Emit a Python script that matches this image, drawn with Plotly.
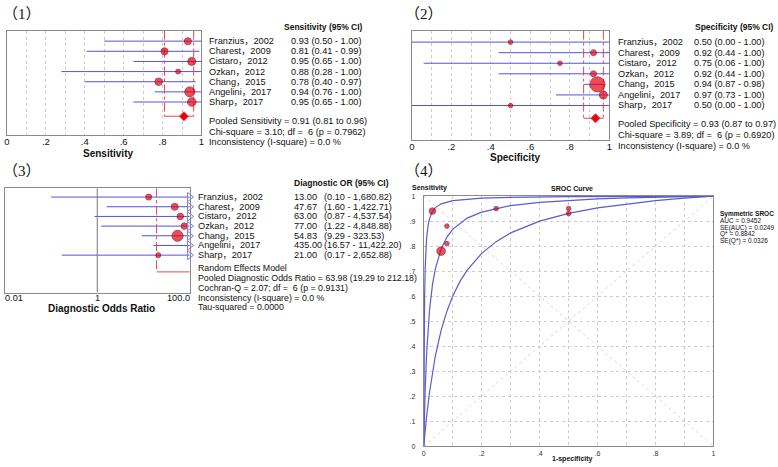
import math
import plotly.graph_objects as go

W, H = 778, 467

# ---- data ----
studies = ["Franzius，2002", "Charest，2009", "Cistaro，2012", "Ozkan，2012",
           "Chang，2015", "Angelini，2017", "Sharp，2017"]

sens = [0.93, 0.81, 0.95, 0.88, 0.78, 0.94, 0.95]
sens_lo = [0.50, 0.41, 0.65, 0.28, 0.40, 0.76, 0.65]
sens_hi = [1.00, 0.99, 1.00, 1.00, 0.97, 1.00, 1.00]
sens_weight = [7, 7, 8, 5, 7.5, 10, 8.5]
sens_pooled = [0.91, 0.81, 0.96]

spec = [0.50, 0.92, 0.75, 0.92, 0.94, 0.97, 0.50]
spec_lo = [0.00, 0.44, 0.06, 0.44, 0.87, 0.73, 0.00]
spec_hi = [1.00, 1.00, 1.00, 1.00, 0.98, 1.00, 1.00]
spec_weight = [4.5, 6, 4.5, 6, 15, 8, 4.5]
spec_pooled = [0.93, 0.87, 0.97]

dor = [13.00, 47.67, 63.00, 77.00, 54.83, 435.00, 21.00]
dor_lo = [0.10, 1.60, 0.87, 1.22, 9.29, 16.57, 0.17]
dor_hi = [1680.82, 1422.71, 4537.54, 4848.88, 323.53, 11422.20, 2652.88]
dor_weight = [6, 7, 6.5, 6.5, 11, 8, 5]
dor_pooled = [63.98, 19.29, 212.18]

sroc_weight = [4.5, 4.5, 4.5, 4.5, 8.5, 6.5, 4.5]

# SROC curve and its bounds
mid_fpr = [0, 0.002, 0.005, 0.01, 0.02, 0.03, 0.04, 0.06, 0.08, 0.1, 0.15, 0.2,
           0.3, 0.4, 0.5, 0.6, 0.7, 0.8, 0.9, 1.0]
mid_sens = [0, 0.105, 0.227, 0.371, 0.544, 0.644, 0.709, 0.789, 0.836, 0.867, 0.912,
            0.936, 0.962, 0.975, 0.983, 0.989, 0.993, 0.996, 0.998, 1.0]
up_fpr = [0, 0.0005, 0.001, 0.002, 0.003, 0.005, 0.0075, 0.01, 0.015, 0.02, 0.03,
          0.04, 0.06, 0.1, 0.2, 0.3, 0.5, 0.7, 1.0]
up_sens = [0, 0.198, 0.330, 0.497, 0.597, 0.712, 0.788, 0.833, 0.882, 0.910, 0.938,
           0.954, 0.969, 0.982, 0.992, 0.995, 0.998, 0.999, 1.0]
lo_fpr = [0, 0.003, 0.006, 0.01, 0.02, 0.03, 0.04, 0.06, 0.08, 0.1, 0.125, 0.15, 0.2,
          0.25, 0.3, 0.4, 0.5, 0.6, 0.7, 0.8, 0.9, 1.0]
lo_sens = [0, 0.039, 0.075, 0.120, 0.216, 0.295, 0.360, 0.463, 0.540, 0.600, 0.659,
           0.704, 0.771, 0.818, 0.853, 0.900, 0.931, 0.953, 0.969, 0.982, 0.992, 1.0]

prop_ticks = [0, 0.1, 0.2, 0.3, 0.4, 0.5, 0.6, 0.7, 0.8, 0.9, 1.0]
prop_labels = ["0", "", ".2", "", ".4", "", ".6", "", ".8", "", "1"]
sroc_ylabels = ["0", ".1", ".2", ".3", ".4", ".5", ".6", ".7", ".8", ".9", "1"]
dor_ticks = [0.01, 1, 100]
dor_labels = ["0.01", "1", "100.0"]

NB = "\u00a0"
sens_stats = ["Pooled Sensitivity = 0.91 (0.81 to 0.96)",
              f"Chi-square = 3.10; df ={NB} 6 (p = 0.7962)",
              "Inconsistency (I-square) = 0.0 %"]
spec_stats = ["Pooled Specificity = 0.93 (0.87 to 0.97)",
              f"Chi-square = 3.89; df ={NB} 6 (p = 0.6920)",
              "Inconsistency (I-square) = 0.0 %"]
dor_stats = ["Random Effects Model",
             "Pooled Diagnostic Odds Ratio = 63.98 (19.29 to 212.18)",
             f"Cochran-Q = 2.07; df ={NB} 6 (p = 0.9131)",
             "Inconsistency (I-square) = 0.0 %",
             "Tau-squared = 0.0000"]
sroc_stats = ["AUC = 0.9452", "SE(AUC) = 0.0249", "Q* = 0.8842", "SE(Q*) = 0.0326"]

# ---- styles ----
BLUE = "#5353dc"
CURVE = "#5b5bcf"
RED = "#e8000f"
DARK_RED = "#86001a"
PINK = "#e5484d"
GRID = "#cdcdcd"
FRAME = "#8a8a8a"
FONT = "Liberation Sans, Arial, Noto Sans CJK SC, sans-serif"
LABEL_FONT = "Liberation Serif, Noto Sans CJK SC, serif"
TXT = 9.2   # body text size
HEAD = 8.5  # column header size


def px(x):
    return x / W


def py(y):
    return 1 - y / H


fig = go.Figure()
notes = []


def note(text, x, y, anchor="left", size=TXT, bold=False, yref="paper",
         family=FONT, xref="paper"):
    if bold:
        text = f"<b>{text}</b>"
    notes.append(dict(text=text, x=x, y=y, xref=xref, yref=yref, xanchor=anchor,
                      yanchor="middle", showarrow=False, borderpad=0, borderwidth=0,
                      font=dict(family=family, size=size, color="#111")))


def line(xa, ya, xs, ys, color, width=1, dash="solid"):
    fig.add_trace(go.Scatter(x=xs, y=ys, mode="lines", xaxis=xa, yaxis=ya,
                             line=dict(color=color, width=width, dash=dash),
                             hoverinfo="skip"))


def forest(xa, ya, est, lo, hi, weights, pooled, pooled_row, top_row, diamond=True):
    rows = list(range(1, len(est) + 1))
    for r, a, b in zip(rows, lo, hi):
        line(xa, ya, [a, b], [r, r], BLUE)
    for v in pooled[1:]:
        line(xa, ya, [v, v], [top_row, pooled_row], PINK, dash="dashdot")
    line(xa, ya, pooled[1:], [pooled_row, pooled_row], PINK)
    fig.add_trace(go.Scatter(x=est, y=rows, mode="markers", xaxis=xa, yaxis=ya,
                             marker=dict(size=weights, color=RED,
                                         line=dict(color=DARK_RED, width=1))))
    if diamond:
        fig.add_trace(go.Scatter(x=[pooled[0]], y=[pooled_row], mode="markers",
                                 xaxis=xa, yaxis=ya,
                                 marker=dict(symbol="diamond", size=7, color=RED,
                                             line=dict(color=PINK, width=1))))
    return rows


# ---- panel 1: sensitivity ----
rows1 = forest("x", "y", sens, sens_lo, sens_hi, sens_weight, sens_pooled, 8.4, -0.04)
for r, name, v, a, b in zip(rows1, studies, sens, sens_lo, sens_hi):
    note(name, px(208), r, yref="y")
    note(f"{v:.2f} ({a:.2f} - {b:.2f})", px(290), r, yref="y")
note("Sensitivity (95% CI)", px(283), py(23), size=HEAD, bold=True)
for t, yy in zip(sens_stats, [119, 129.5, 140.5]):
    note(t, px(208), py(yy))
note("Sensitivity", px(106), py(152), anchor="center", size=10, bold=True)

# ---- panel 2: specificity ----
rows2 = forest("x2", "y2", spec, spec_lo, spec_hi, spec_weight, spec_pooled, 8.21, -0.09)
for r, name, v, a, b in zip(rows2, studies, spec, spec_lo, spec_hi):
    note(name, px(620), r, yref="y2")
    note(f"{v:.2f} ({a:.2f} - {b:.2f})", px(696), r, yref="y2")
note("Specificity (95% CI)", px(777), py(23), anchor="right", size=HEAD, bold=True)
for t, yy in zip(spec_stats, [122, 133, 144]):
    note(t, px(620), py(yy))
note("Specificity", px(516), py(156), anchor="center", size=10, bold=True)

# ---- panel 3: diagnostic odds ratio ----
rows3 = forest("x3", "y3", dor, dor_lo, dor_hi, dor_weight, dor_pooled, 8.73, 0.084,
               diamond=False)
line("x3", "y3", [1, 1], [0.084, 10.87], "#777777")
fig.add_trace(go.Scatter(x=[dor_ticks[-1]] * len(rows3), y=rows3, mode="markers",
                         xaxis="x3", yaxis="y3", cliponaxis=False,
                         marker=dict(symbol="triangle-right-open", size=8,
                                     color="#7b7bf0", line=dict(width=1))))
for r, name, v, a, b in zip(rows3, studies, dor, dor_lo, dor_hi):
    note(name, px(197), r, yref="y3")
    note(f"{v:.2f}", px(293), r, yref="y3")
    note(f"({a:,.2f} - {b:,.2f})", px(323), r, yref="y3")
note("Diagnostic OR (95% CI)", px(293), py(182), size=HEAD, bold=True)
for t, yy in zip(dor_stats, [268, 278, 288, 298, 307.5]):
    note(t, px(197), py(yy), size=8.8)
for v, t, a in zip(dor_ticks, dor_labels, ["left", "center", "right"]):
    note(t, math.log10(v), py(298), anchor=a, xref="x3")
note("Diagnostic Odds Ratio", px(99), py(309), anchor="center", size=10, bold=True)

# ---- panel 4: SROC ----
line("x4", "y4", [0, 1], [0, 1], "#d6d6d6", dash="dot")
line("x4", "y4", [0, 1], [1, 0], "#d6d6d6", dash="dot")
for xs, ys in [(up_fpr, up_sens), (mid_fpr, mid_sens), (lo_fpr, lo_sens)]:
    line("x4", "y4", xs, ys, CURVE, width=1.2)
fig.add_trace(go.Scatter(x=[1 - s for s in spec], y=sens, mode="markers",
                         xaxis="x4", yaxis="y4", cliponaxis=False,
                         marker=dict(size=sroc_weight, color=RED,
                                     line=dict(color=DARK_RED, width=1))))
note("Sensitivity", px(412), py(187), size=7, bold=True)
note("SROC Curve", px(573), py(187), anchor="center", size=7, bold=True)
note("1-specificity", px(574), py(462), anchor="center", size=7, bold=True)
note("Symmetric SROC", px(723), py(213), size=6.5, bold=True)
for t, yy in zip(sroc_stats, [220, 227, 234, 241]):
    note(t, px(723), py(yy), size=6.5)

# ---- panel labels ----
for t, x, y in [("（1）", 0, 10), ("（2）", 405, 10), ("（3）", 0, 170), ("（4）", 405, 170)]:
    note(t, px(x), py(y), size=15, family=LABEL_FONT)

forest_x = dict(showline=True, mirror=True, linecolor=FRAME, zeroline=False, ticks="",
                ticklabelstandoff=-2,
                tickfont=dict(family=FONT, size=9.5, color="#111"))
forest_y = dict(showline=True, mirror=True, linecolor=FRAME, zeroline=False, ticks="",
                showgrid=False, showticklabels=False)
prop_x = dict(forest_x, range=[0, 1], tickvals=prop_ticks, ticktext=prop_labels,
              showgrid=True, gridcolor=GRID, griddash="dot", gridwidth=1)

fig.update_layout(
    width=W, height=H, margin=dict(l=0, r=0, t=0, b=0),
    paper_bgcolor="white", plot_bgcolor="white", showlegend=False,
    annotations=notes,
    xaxis=dict(prop_x, domain=[px(4), px(200)], anchor="y"),
    yaxis=dict(forest_y, domain=[py(133), py(27)], range=[10.25, -0.04], anchor="x"),
    xaxis2=dict(prop_x, domain=[px(412), px(611)], anchor="y2"),
    yaxis2=dict(forest_y, domain=[py(138), py(27)], range=[10.26, -0.09], anchor="x2"),
    xaxis3=dict(forest_x, domain=[px(2), px(188)], anchor="y3", type="log",
                range=[-2, 2], showgrid=False, showticklabels=False),
    yaxis3=dict(forest_y, domain=[py(293), py(187)], range=[10.87, 0.084], anchor="x3"),
    xaxis4=dict(domain=[px(424), px(716)], anchor="y4", range=[0, 1],
                tickvals=prop_ticks, ticktext=prop_labels, showgrid=True,
                gridcolor=GRID, griddash="dot", showline=True, mirror=True,
                linecolor=FRAME, zeroline=False, ticks="",
                tickfont=dict(family=FONT, size=7, color="#333")),
    yaxis4=dict(domain=[py(449), py(195)], anchor="x4", range=[0, 1],
                tickvals=prop_ticks, ticktext=sroc_ylabels, showgrid=True,
                gridcolor=GRID, griddash="dot", showline=True, mirror=True,
                linecolor=FRAME, zeroline=False, ticks="", ticklabelstandoff=6,
                tickfont=dict(family=FONT, size=7, color="#333")),
)

# the page's default body margin would push the figure off the 778x467 window
fig.write_html("out.html", config={"displayModeBar": False},
               post_script="document.body.style.margin = '0';")
